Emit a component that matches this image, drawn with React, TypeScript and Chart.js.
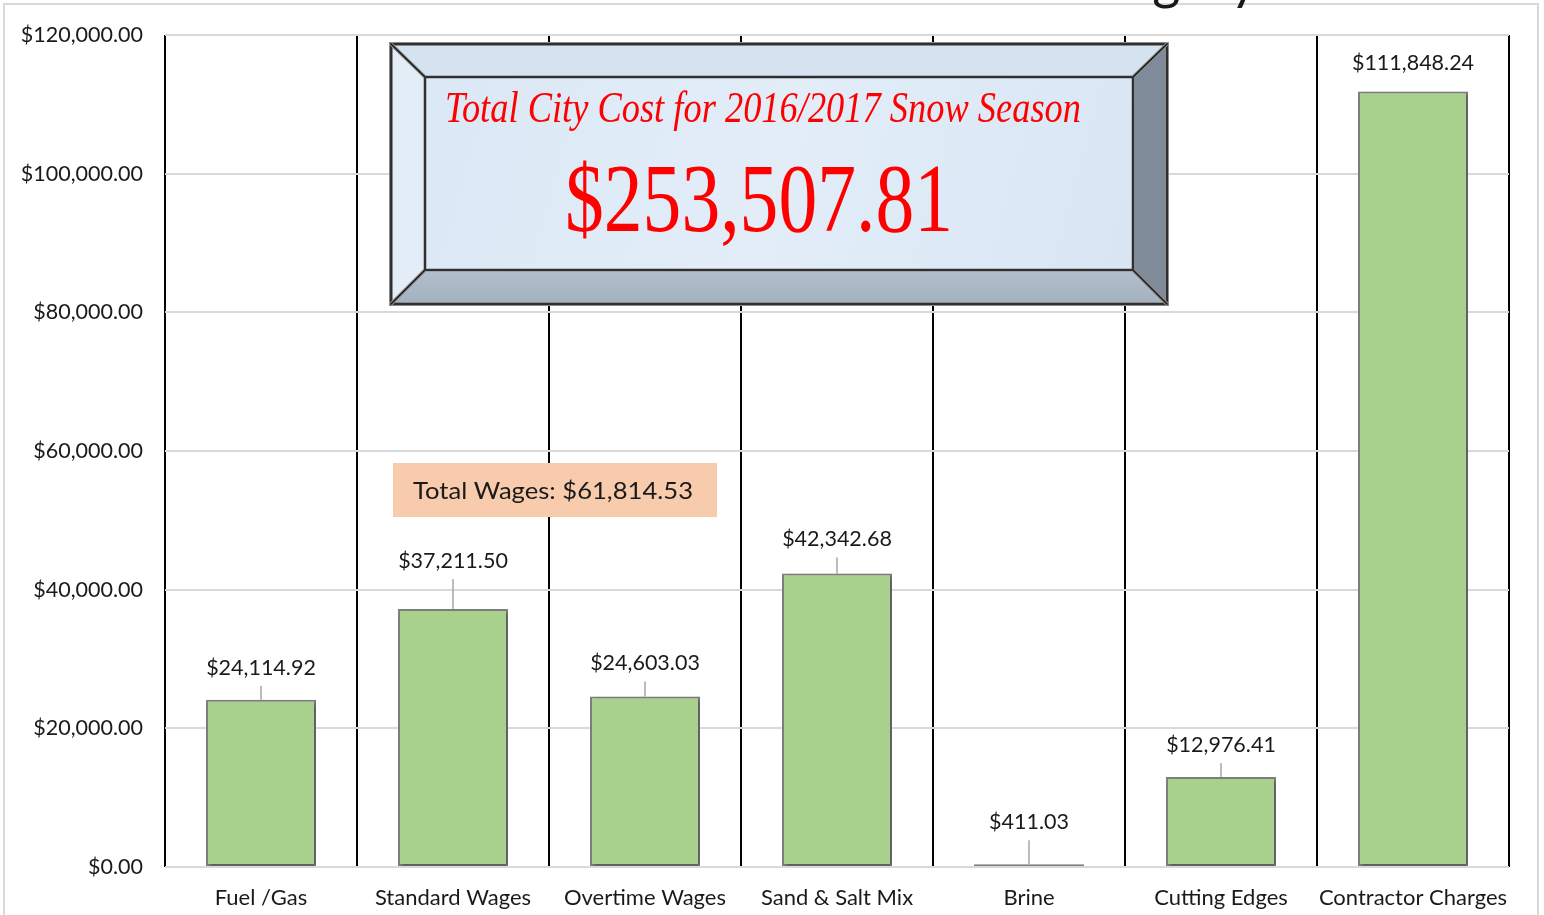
import React, { useEffect, useRef } from "react";
import { Chart, registerables } from "chart.js";
Chart.register(...registerables);

const categories = [
  "Fuel /Gas",
  "Standard Wages",
  "Overtime Wages",
  "Sand & Salt Mix",
  "Brine",
  "Cutting Edges",
  "Contractor Charges",
];
const costs = [24114.92, 37211.5, 24603.03, 42342.68, 411.03, 12976.41, 111848.24];
const yMin = 0;
const yMax = 120000;
const yStep = 20000;
const labelLift = [32, 48, 33, 34, 42, 32, 28];
const totalCityCost = 253507.81;
const totalWages = 61814.53;
const boxTitle = "Total City Cost for 2016/2017 Snow Season";
const chartTitle = "Snow Removal Costs for Each Category";

const money = (v: number) =>
  "$" + v.toLocaleString("en-US", { minimumFractionDigits: 2, maximumFractionDigits: 2 });

const UI_FONT = "Lato, 'Open Sans', sans-serif";

function drawFitted(
  ctx: CanvasRenderingContext2D,
  text: string,
  x: number,
  y: number,
  width: number,
  font: string,
  color: string
) {
  ctx.save();
  ctx.font = font;
  ctx.fillStyle = color;
  ctx.textAlign = "left";
  ctx.textBaseline = "alphabetic";
  const w = ctx.measureText(text).width;
  ctx.translate(x, y);
  ctx.scale(width / w, 1);
  ctx.fillText(text, 0, 0);
  ctx.restore();
}

const decorPlugin = {
  id: "decor",
  beforeDraw(chart: any) {
    const ctx = chart.ctx as CanvasRenderingContext2D;
    ctx.save();
    ctx.fillStyle = "#ffffff";
    ctx.fillRect(0, 0, chart.width, chart.height);
    ctx.strokeStyle = "#d9d9d9";
    ctx.lineWidth = 2;
    ctx.strokeRect(4, 4, 1534, 930);
    ctx.restore();
  },
  beforeDatasetDraw(chart: any) {
    const ctx = chart.ctx;
    ctx.save();
    ctx.shadowColor = "rgba(0,0,0,0.35)";
    ctx.shadowBlur = 4;
    ctx.shadowOffsetX = 2;
    ctx.shadowOffsetY = 2;
  },
  afterDatasetDraw(chart: any) {
    chart.ctx.restore();
  },
  afterDatasetsDraw(chart: any) {
    const ctx = chart.ctx as CanvasRenderingContext2D;
    const meta = chart.getDatasetMeta(0);
    ctx.save();
    meta.data.forEach((bar: any, i: number) => {
      const top = bar.y;
      const cy = top - labelLift[i];
      const lineTop = cy + 18;
      if (top - lineTop > 10) {
        ctx.strokeStyle = "#a6a6a6";
        ctx.lineWidth = 1.5;
        ctx.beginPath();
        ctx.moveTo(bar.x, lineTop);
        ctx.lineTo(bar.x, top);
        ctx.stroke();
      }
      ctx.font = `21.5px ${UI_FONT}`;
      ctx.fillStyle = "#1a1a1a";
      ctx.textAlign = "center";
      ctx.textBaseline = "middle";
      ctx.fillText(money(costs[i]), bar.x, cy);
    });
    ctx.restore();
  },
  afterDraw(chart: any) {
    const ctx = chart.ctx as CanvasRenderingContext2D;
    ctx.save();
    // Title (mostly cropped at top)
    ctx.font = `54px ${UI_FONT}`;
    ctx.fillStyle = "#1a1a1a";
    ctx.textAlign = "right";
    ctx.textBaseline = "alphabetic";
    ctx.fillText(chartTitle, 1258, -1);

    // Bevelled box
    const o = { l: 391, t: 44, r: 1167, b: 304 };
    const n = { l: 425, t: 77, r: 1133, b: 270 };
    const poly = (pts: number[][], fill: string) => {
      ctx.beginPath();
      ctx.moveTo(pts[0][0], pts[0][1]);
      for (let k = 1; k < pts.length; k++) ctx.lineTo(pts[k][0], pts[k][1]);
      ctx.closePath();
      ctx.fillStyle = fill;
      ctx.fill();
    };
    poly([[o.l, o.t], [o.r, o.t], [n.r, n.t], [n.l, n.t]], "#d5e3f1");
    poly([[o.l, o.t], [n.l, n.t], [n.l, n.b], [o.l, o.b]], "#e3edf8");
    const gb = ctx.createLinearGradient(0, n.b, 0, o.b);
    gb.addColorStop(0, "#b3bfcc");
    gb.addColorStop(1, "#a3b0bf");
    poly([[o.l, o.b], [n.l, n.b], [n.r, n.b], [o.r, o.b]], gb as any);
    poly([[o.r, o.t], [o.r, o.b], [n.r, n.b], [n.r, n.t]], "#7f8b99");
    const gf = ctx.createLinearGradient(n.l, n.t, n.r, n.b);
    gf.addColorStop(0, "#dbe8f5");
    gf.addColorStop(0.5, "#e2edf8");
    gf.addColorStop(1, "#d8e6f4");
    ctx.fillStyle = gf;
    ctx.fillRect(n.l, n.t, n.r - n.l, n.b - n.t);

    ctx.strokeStyle = "#8c8c8c";
    ctx.lineWidth = 4;
    ctx.strokeRect(o.l, o.t, o.r - o.l, o.b - o.t);
    ctx.strokeStyle = "#111111";
    ctx.lineWidth = 1.5;
    ctx.strokeRect(o.l, o.t, o.r - o.l, o.b - o.t);
    ctx.strokeStyle = "#8c8c8c";
    ctx.lineWidth = 3;
    ctx.strokeRect(n.l, n.t, n.r - n.l, n.b - n.t);
    ctx.strokeStyle = "#111111";
    ctx.lineWidth = 1.5;
    ctx.strokeRect(n.l, n.t, n.r - n.l, n.b - n.t);
    const diag = (x1: number, y1: number, x2: number, y2: number) => {
      ctx.strokeStyle = "#8c8c8c";
      ctx.lineWidth = 3.5;
      ctx.beginPath();
      ctx.moveTo(x1, y1);
      ctx.lineTo(x2, y2);
      ctx.stroke();
      ctx.strokeStyle = "#111111";
      ctx.lineWidth = 1.3;
      ctx.stroke();
    };
    diag(o.l, o.t, n.l, n.t);
    diag(o.r, o.t, n.r, n.t);
    diag(o.l, o.b, n.l, n.b);
    diag(o.r, o.b, n.r, n.b);

    drawFitted(ctx, boxTitle, 445, 122, 636, "italic 44px 'Liberation Serif', serif", "#ff0000");
    drawFitted(ctx, money(totalCityCost), 565, 231, 388, "98px 'Liberation Serif', serif", "#ff0000");

    ctx.fillStyle = "#f8cbad";
    ctx.fillRect(393, 463, 324, 54);
    drawFitted(ctx, "Total Wages: " + money(totalWages), 413, 499, 280, `24px ${UI_FONT}`, "#1a1a1a");
    ctx.restore();
  },
};

export default function App() {
  const ref = useRef<HTMLCanvasElement | null>(null);
  useEffect(() => {
    document.body.style.margin = "0";
    const canvas = ref.current!;
    const chart = new Chart(canvas, {
      type: "bar",
      data: {
        labels: categories,
        datasets: [
          {
            data: costs,
            backgroundColor: "#a9d18e",
            borderColor: "#808080",
            borderWidth: 2,
            borderSkipped: false,
            barPercentage: 0.573,
            categoryPercentage: 1,
          },
        ],
      },
      options: {
        animation: false,
        responsive: false,
        devicePixelRatio: 1,
        layout: { padding: { top: 33, right: 35, bottom: 0, left: 0 } },
        plugins: { legend: { display: false }, tooltip: { enabled: false }, title: { display: false } },
        scales: {
          x: {
            offset: true,
            border: { display: false },
            grid: { display: true, color: "#000000", lineWidth: 2, drawTicks: false, offset: true },
            ticks: { font: { family: UI_FONT, size: 22 }, color: "#1a1a1a", padding: 18, maxRotation: 0, autoSkip: false },
            afterFit: (s: any) => {
              s.height = 48;
            },
          },
          y: {
            min: yMin,
            max: yMax,
            border: { display: false },
            grid: { color: "#d9d9d9", lineWidth: 2, drawTicks: false },
            ticks: {
              stepSize: yStep,
              font: { family: UI_FONT, size: 21.5 },
              color: "#1a1a1a",
              padding: 22,
              callback: (v: any) => money(Number(v)),
            },
            afterFit: (s: any) => {
              s.width = 165;
            },
          },
        },
      },
      plugins: [decorPlugin],
    });
    return () => chart.destroy();
  }, []);
  return <canvas ref={ref} width={1544} height={915} style={{ display: "block" }} />;
}
